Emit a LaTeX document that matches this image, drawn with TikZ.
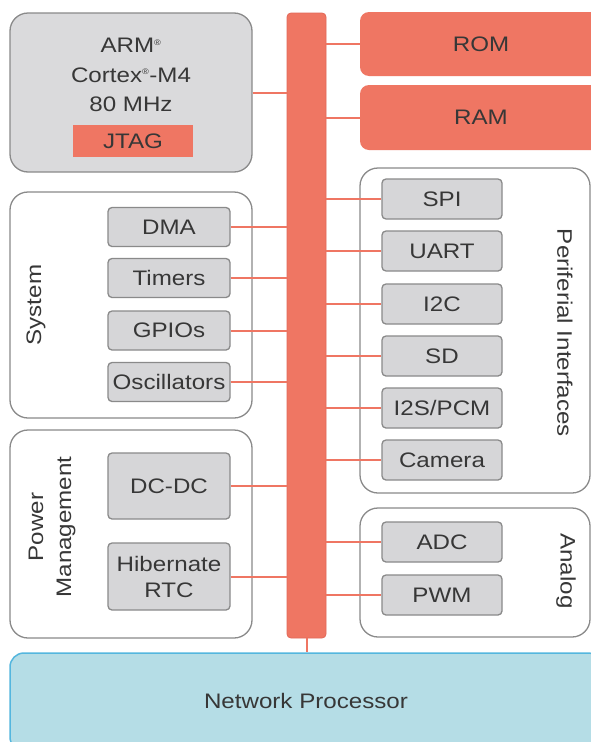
\documentclass[tikz,border=0pt]{standalone}
\usepackage{fontspec}
\setmainfont{Liberation Sans}[FakeStretch=1.15]
\definecolor{redfill}{RGB}{239,118,99}
\definecolor{redline}{RGB}{226,104,88}
\definecolor{grayfill}{RGB}{214,214,216}
\definecolor{grayborder}{RGB}{138,138,138}
\definecolor{armfill}{RGB}{218,218,220}
\definecolor{netfill}{RGB}{181,221,230}
\definecolor{netborder}{RGB}{84,182,222}
\definecolor{textcol}{RGB}{55,55,55}
\newcommand{\regmark}{\textsuperscript{\fontsize{8}{8}\selectfont ®}}
\begin{document}
\begin{tikzpicture}[x=1pt,y=-1pt,
  every node/.style={font=\fontsize{21}{29.5}\selectfont, text=textcol, inner sep=0pt},
  group/.style={draw=grayborder, line width=1.3pt, fill=white, rounded corners=18pt},
  graybox/.style={draw=grayborder, line width=1.3pt, fill=grayfill, rounded corners=4pt},
  redbox/.style={fill=redfill, rounded corners=9pt},
  conn/.style={draw=redfill, line width=2pt}]
\clip (0,0) rectangle (591,742);
\fill[white] (0,0) rectangle (591,742);

% bus
\node[fill=redfill, draw=redline, line width=0.8pt, rounded corners=4pt, minimum width=39pt, minimum height=625pt] (bus) at (306.5,325.5) {};

% network processor
\node[draw=netborder, fill=netfill, line width=1.5pt, rounded corners=14pt, minimum width=592pt, minimum height=98pt] (net) at (306,702) {};
\node (nettxt) at (306,701) {Network Processor};
\draw[conn] (bus.south) -- (bus.south |- net.north);

% ARM
\node[draw=grayborder, line width=1.3pt, fill=armfill, rounded corners=18pt, minimum width=242pt, minimum height=159pt] (arm) at (131,92.5) {};
\node[align=center] (armtxt) at (131,75) {ARM\regmark\\Cortex\regmark-M4\\80 MHz};
\node[fill=redfill, minimum width=120pt, minimum height=32pt] (jtag) at (133,141) {JTAG};
\draw[conn] (arm.east) -- (arm.east -| bus.west);

% ROM / RAM
\node[redbox, minimum width=242pt, minimum height=64pt] (rom) at (481,44) {};
\node (romtxt) at (481,44) {ROM};
\node[redbox, minimum width=242pt, minimum height=65pt] (ram) at (481,117.5) {};
\node (ramtxt) at (481,117.5) {RAM};
\draw[conn] (bus.east |- rom.west) -- (rom.west);
\draw[conn] (bus.east |- ram.west) -- (ram.west);

% System
\node[group, minimum width=242pt, minimum height=226pt] (sys) at (131,305) {};
\node[rotate=90] (systxt) at (36,305) {System};
\foreach \n/\y/\t in {dma/227/DMA, tim/278/Timers, gpio/330.5/GPIOs, osc/382/Oscillators}{
  \node[graybox, minimum width=122pt, minimum height=39pt] (\n) at (169,\y) {\t};
  \draw[conn] (\n.east) -- (\n.east -| bus.west);
}

% Power management
\node[group, minimum width=242pt, minimum height=208pt] (pwr) at (131,534) {};
\node[rotate=90, align=center, font=\fontsize{21}{28}\selectfont] (pwrtxt) at (52,527) {Power\\Management};
\node[graybox, minimum width=122pt, minimum height=66pt] (dcdc) at (169,486) {DC-DC};
\node[graybox, minimum width=122pt, minimum height=67pt, align=center, font=\fontsize{21}{26}\selectfont] (hib) at (169,576.5) {Hibernate\\RTC};
\draw[conn] (dcdc.east) -- (dcdc.east -| bus.west);
\draw[conn] (hib.east) -- (hib.east -| bus.west);

% Peripheral interfaces
\node[group, minimum width=230pt, minimum height=325pt] (per) at (475,330.5) {};
\node[rotate=-90] (pertxt) at (565,333) {Periferial Interfaces};
\foreach \n/\y/\t in {spi/199/SPI, uart/251/UART, itc/304/I2C, sd/356/SD, i2s/408/{I2S/PCM}, cam/460/Camera}{
  \node[graybox, minimum width=120pt, minimum height=40pt] (\n) at (442,\y) {\t};
  \draw[conn] (\n.west -| bus.east) -- (\n.west);
}

% Analog
\node[group, minimum width=230pt, minimum height=129pt] (ana) at (475,572.5) {};
\node[rotate=-90] (anatxt) at (566,571) {Analog};
\foreach \n/\y/\t in {adc/542/ADC, pwm/595/PWM}{
  \node[graybox, minimum width=120pt, minimum height=40pt] (\n) at (442,\y) {\t};
  \draw[conn] (\n.west -| bus.east) -- (\n.west);
}
\end{tikzpicture}
\end{document}
